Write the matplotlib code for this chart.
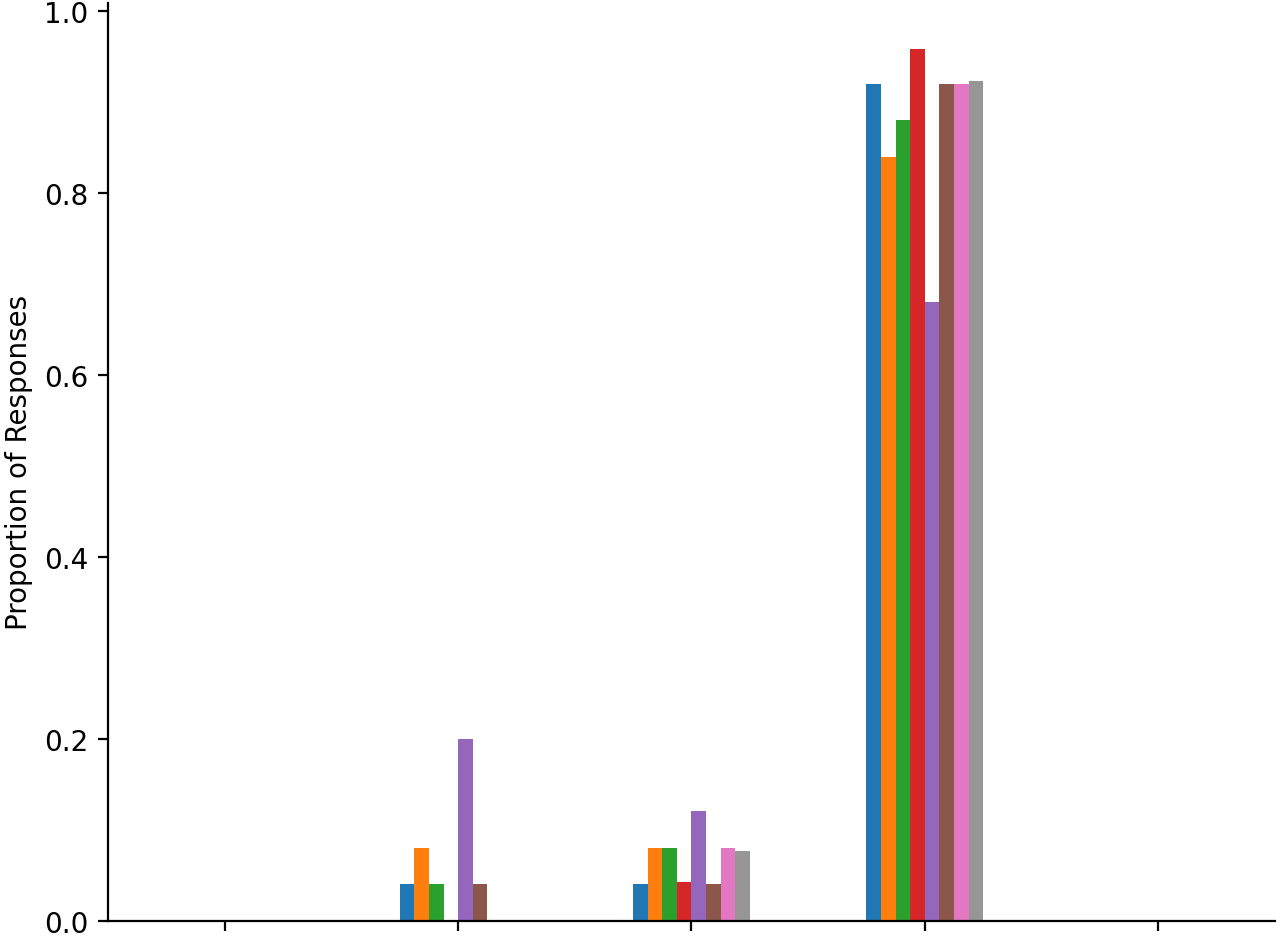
import numpy as np
import matplotlib
matplotlib.use("Agg")
import matplotlib.pyplot as plt

# five response categories (no tick labels shown), eight respondent groups
categories = [0, 1, 2, 3, 4]
series = {
    "g1": [0.0, 0.04, 0.04, 0.92, 0.0],
    "g2": [0.0, 0.08, 0.08, 0.84, 0.0],
    "g3": [0.0, 0.04, 0.08, 0.88, 0.0],
    "g4": [0.0, 0.0, 0.042, 0.958, 0.0],
    "g5": [0.0, 0.20, 0.12, 0.68, 0.0],
    "g6": [0.0, 0.04, 0.04, 0.92, 0.0],
    "g7": [0.0, 0.0, 0.08, 0.92, 0.0],
    "g8": [0.0, 0.0, 0.077, 0.923, 0.0],
}
colors = ["#1f77b4", "#ff7f0e", "#2ca02c", "#d62728",
          "#9467bd", "#8c564b", "#e377c2", "#969696"]

fig = plt.figure(figsize=(6.4, 4.685), dpi=200)
ax = fig.add_axes([0.0844, 0.0165, 0.9116, 0.9792])

x = np.arange(len(categories))
n = len(series)
width = 0.5 / n
for i, (name, vals) in enumerate(series.items()):
    ax.bar(x + (i - (n - 1) / 2) * width, vals, width, label=name, color=colors[i])

ax.set_xlim(-0.5, len(categories) - 0.5)
ax.set_ylim(0, 1.009)
ax.set_xticks(x)
ax.set_xticklabels([])
ax.set_ylabel("Proportion of Responses")
ax.spines["top"].set_visible(False)
ax.spines["right"].set_visible(False)

fig.savefig("out.png", dpi=200)
